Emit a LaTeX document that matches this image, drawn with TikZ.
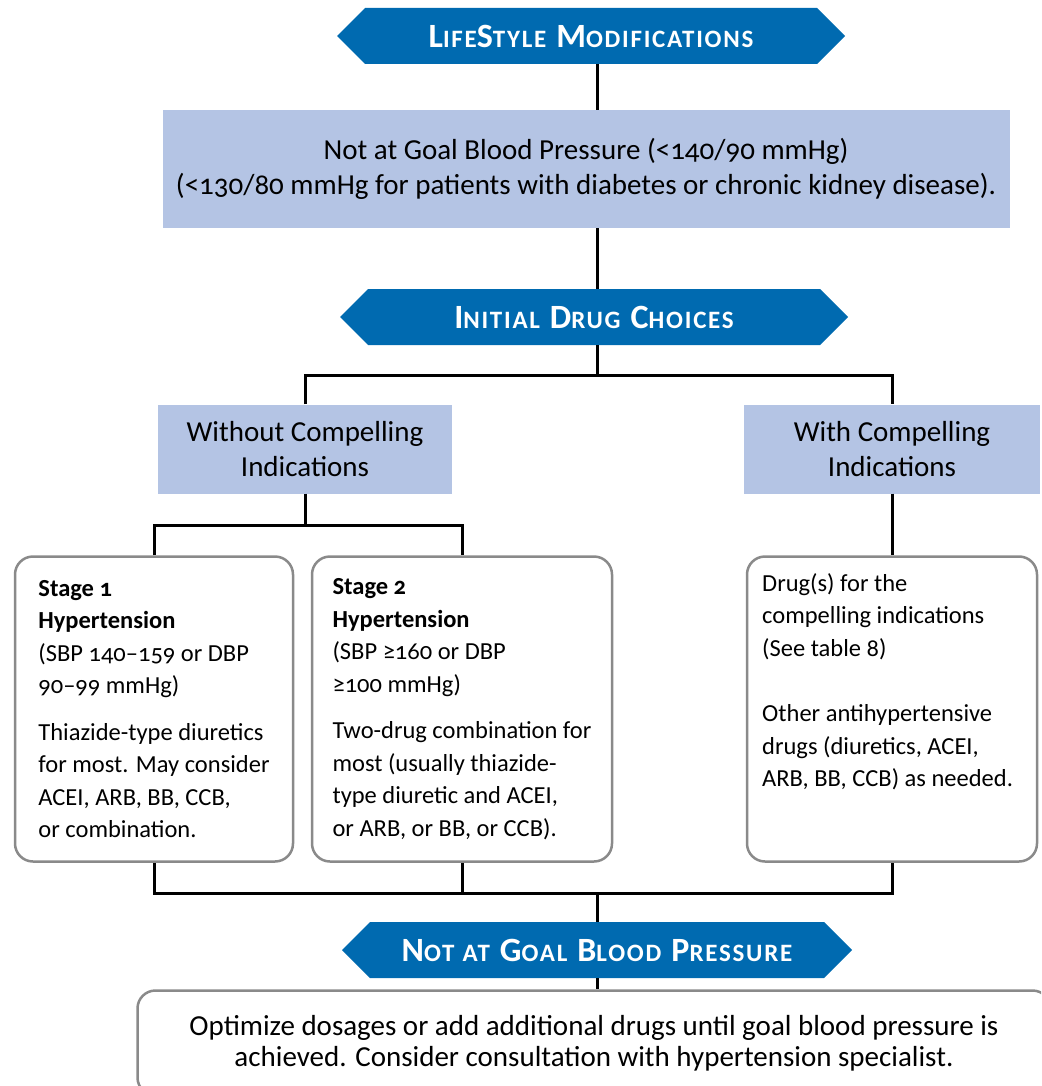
\documentclass[tikz,border=0pt]{standalone}
\usepackage{fontspec}
\setmainfont[Numbers=OldStyle]{Carlito}
\newfontfamily\bannerfont[LetterSpace=7.0]{Carlito}
\usepackage{tikz}
\usetikzlibrary{shapes.symbols}
\definecolor{bannerblue}{RGB}{0,106,176}
\definecolor{paleblue}{RGB}{180,196,228}
\definecolor{framegray}{RGB}{138,138,138}
\tikzstyle{banner} = [signal, signal to=west and east, fill=bannerblue, text=white, font=\bannerfont\bfseries, minimum height=56pt, inner sep=0pt]
\tikzstyle{shaded} = [fill=paleblue, align=center, inner sep=0pt, font=\fontsize{29}{35}\selectfont]
\tikzstyle{stagebox} = [draw=framegray, line width=2.5pt, rounded corners=18pt, fill=white, minimum height=305pt, inner xsep=0pt, align=left, font=\fontsize{24.5}{32.5}\selectfont]
\tikzstyle{link} = [draw, line width=3pt]
\newcommand{\bsc}[2]{{\fontsize{34}{34}\selectfont #1}{\fontsize{25}{25}\selectfont #2}}

\begin{document}
\begin{tikzpicture}[x=1pt, y=-1pt]
\useasboundingbox (0,0) rectangle (1041,1086);
\clip (0,0) rectangle (1041,1086);
\coordinate (spine) at (597,0);

\node[banner, minimum width=508pt] at (591,36) (life) {\bsc{L}{IFE}\bsc{S}{TYLE}\hspace{10pt}\bsc{M}{ODIFICATIONS}};
\node[shaded, minimum width=847pt, minimum height=118pt] at (586,169) (goal) {Not at Goal Blood Pressure (<140/90 mmHg)\\(<130/80 mmHg for patients with diabetes or chronic kidney disease).};
\node[banner, minimum width=508pt] at (594,317) (initial) {\bsc{I}{NITIAL}\hspace{10pt}\bsc{D}{RUG}\hspace{10pt}\bsc{C}{HOICES}};

\node[shaded, minimum width=294pt, minimum height=89pt] at (305,449) (without) {Without Compelling\\Indications};
\node[shaded, minimum width=296pt, minimum height=89pt] at (892,449) (with) {With Compelling\\Indications};
\coordinate (fork1) at (597,375);

\node[stagebox, minimum width=278pt] at (154,709) (stage1) {\textbf{Stage 1}\\\textbf{Hypertension}\\(SBP 140–159 or DBP\\90–99 mmHg)\\[14pt]Thiazide-type diuretics\\for most. May consider\\ACEI, ARB, BB, CCB,\\or combination.};
\node[stagebox, minimum width=300pt] at (462,709) (stage2) {\textbf{Stage 2}\\\textbf{Hypertension}\\(SBP ≥160 or DBP\\≥100 mmHg)\\[14pt]Two-drug combination for\\most (usually thiazide-\\type diuretic and ACEI,\\or ARB, or BB, or CCB).};
\node[stagebox, minimum width=290pt] at (892,709) (drugbox) {};
\node[anchor=north west, inner sep=0pt, align=left, font=\fontsize{24.5}{32.5}\selectfont] at (762,573) (drugtext) {Drug(s) for the\\compelling indications\\(See table 8)\\[33pt]Other antihypertensive\\drugs (diuretics, ACEI,\\ARB, BB, CCB) as needed.};
\coordinate (fork2) at (305,525);
\coordinate (fork3) at (597,893);

\node[banner, minimum width=510pt] at (597,950) (notgoal) {\bsc{N}{OT}\hspace{8pt}\bsc{}{AT}\hspace{10pt}\bsc{G}{OAL}\hspace{10pt}\bsc{B}{LOOD}\hspace{10pt}\bsc{P}{RESSURE}};
\node[stagebox, minimum width=913pt, minimum height=105pt, align=center, font=\fontsize{29}{31}\selectfont] at (594,1043) (optimize) {Optimize dosages or add additional drugs until goal blood pressure is\\achieved. Consider consultation with hypertension specialist.};

% connectors
\path[link] (life.south -| spine) -- (goal.north -| spine);
\path[link] (goal.south -| spine) -- (initial.north -| spine);
\path[link] (initial.south -| spine) -- (fork1);
\path[link] (without.north) |- (fork1) -| (with.north);
\path[link] (without.south) -- (fork2);
\path[link] (stage1.north) |- (fork2) -| (stage2.north);
\path[link] (with.south) -- (drugbox.north);
\path[link] (stage1.south) |- (fork3) -| (drugbox.south);
\path[link] (stage2.south) -- (stage2.south |- fork3);
\path[link] (fork3) -- (notgoal.north -| spine);
\path[link] (notgoal.south -| spine) -- (optimize.north -| spine);
\end{tikzpicture}
\end{document}
